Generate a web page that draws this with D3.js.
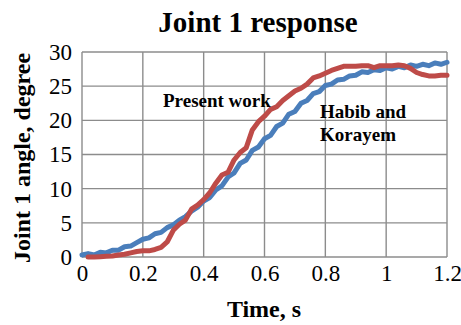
<!DOCTYPE html>
<html>
<head>
<meta charset="utf-8">
<script src="https://cdn.jsdelivr.net/npm/d3@7"></script>
<style>
  html, body { margin: 0; padding: 0; background: #fff; }
  svg text { font-family: "Liberation Serif", "Times New Roman", serif; fill: #000; }
</style>
</head>
<body>
<svg id="chart" width="461" height="325"></svg>
<script>
// Time samples (s) for both series
const timeHK = [0,0.02,0.04,0.06,0.08,0.10,0.12,0.14,0.16,0.18,0.20,0.22,0.24,0.26,0.28,0.30,0.32,0.34,0.36,0.38,0.40,0.42,0.44,0.46,0.48,0.50,0.52,0.54,0.56,0.58,0.60,0.62,0.64,0.66,0.68,0.70,0.72,0.74,0.76,0.78,0.80,0.82,0.84,0.86,0.88,0.90,0.92,0.94,0.96,0.98,1.00,1.02,1.04,1.06,1.08,1.10,1.12,1.14,1.16,1.18,1.20];
// Habib and Korayem joint 1 angle (degree)
const habibKorayem = [0.3,0.5,0.3,0.7,0.6,1.0,1.0,1.5,1.6,2.1,2.6,2.8,3.4,3.6,4.3,4.7,5.4,5.9,6.7,7.3,8.2,8.7,9.8,10.4,11.7,12.3,13.7,14.2,15.6,16.1,17.3,17.8,19.1,19.6,20.9,21.3,22.5,22.9,23.9,24.2,25.1,25.3,25.9,26.0,26.5,26.6,27.1,27.0,27.4,27.3,27.7,27.5,27.9,27.7,28.1,27.9,28.2,28.0,28.4,28.2,28.5];

const timePW = [0.02,0.04,0.06,0.08,0.10,0.12,0.14,0.16,0.18,0.20,0.22,0.24,0.26,0.28,0.30,0.32,0.34,0.36,0.38,0.40,0.42,0.44,0.46,0.48,0.50,0.52,0.54,0.56,0.58,0.60,0.62,0.64,0.66,0.68,0.70,0.72,0.74,0.76,0.78,0.80,0.82,0.84,0.86,0.88,0.90,0.92,0.94,0.96,0.98,1.00,1.02,1.04,1.06,1.08,1.10,1.12,1.14,1.16,1.18,1.20];
// Present work joint 1 angle (degree)
const presentWork = [0.0,0.0,0.05,0.1,0.15,0.3,0.4,0.6,0.8,0.9,0.9,1.1,1.4,2.2,3.9,4.8,5.4,7.0,7.6,8.4,9.4,10.8,12.0,12.4,14.2,15.3,16.0,18.6,19.8,20.6,21.6,22.0,22.9,23.6,24.3,24.7,25.3,26.2,26.5,26.9,27.3,27.6,27.9,27.9,27.9,28.0,28.0,27.7,28.0,28.0,28.0,28.1,28.0,27.6,27.0,26.7,26.5,26.5,26.6,26.6];

const xTicks = [0, 0.2, 0.4, 0.6, 0.8, 1, 1.2];
const yTicks = [0, 5, 10, 15, 20, 25, 30];

const svg = d3.select("#chart");
const plot = { left: 82, right: 447, top: 52, bottom: 257 };

const x = d3.scaleLinear().domain([0, 1.2]).range([plot.left, plot.right]);
const y = d3.scaleLinear().domain([0, 30]).range([plot.bottom, plot.top]);

// Grid lines
const grid = svg.append("g").attr("stroke", "#8c8c8c").attr("stroke-width", 1.4);
grid.selectAll(".gx").data(xTicks).join("line")
  .attr("x1", d => x(d)).attr("x2", d => x(d))
  .attr("y1", plot.top).attr("y2", plot.bottom);
grid.selectAll(".gy").data(yTicks).join("line")
  .attr("x1", plot.left).attr("x2", plot.right)
  .attr("y1", d => y(d)).attr("y2", d => y(d));

// Axes (labels only; lines come from the grid)
const xAxis = svg.append("g")
  .attr("transform", `translate(0,${plot.bottom})`)
  .call(d3.axisBottom(x).tickValues(xTicks).tickSize(0).tickPadding(8).tickFormat(d3.format("")));
xAxis.select(".domain").remove();
xAxis.selectAll("text").attr("font-size", 23).attr("font-family", "Liberation Serif").attr("fill", "#000");

const yAxis = svg.append("g")
  .attr("transform", `translate(${plot.left},0)`)
  .call(d3.axisLeft(y).tickValues(yTicks).tickSize(0).tickPadding(10));
yAxis.select(".domain").remove();
yAxis.selectAll("text").attr("font-size", 23).attr("font-family", "Liberation Serif").attr("fill", "#000");

// Series lines
const line = d3.line().x(d => x(d[0])).y(d => y(d[1])).curve(d3.curveLinear);

svg.append("path")
  .datum(d3.zip(timeHK, habibKorayem))
  .attr("fill", "none").attr("stroke", "#4a7ebb").attr("stroke-width", 5)
  .attr("stroke-linejoin", "round").attr("stroke-linecap", "round")
  .attr("d", line);

svg.append("path")
  .datum(d3.zip(timePW, presentWork))
  .attr("fill", "none").attr("stroke", "#be4b48").attr("stroke-width", 5)
  .attr("stroke-linejoin", "round").attr("stroke-linecap", "round")
  .attr("d", line);

// Titles
svg.append("text").attr("x", 258).attr("y", 32).attr("text-anchor", "middle")
  .attr("font-size", 29).attr("font-weight", "bold").text("Joint 1 response");

svg.append("text").attr("x", 264).attr("y", 317).attr("text-anchor", "middle")
  .attr("font-size", 24).attr("font-weight", "bold").text("Time, s");

svg.append("text").attr("transform", "translate(30,158) rotate(-90)")
  .attr("text-anchor", "middle").attr("font-size", 24).attr("font-weight", "bold")
  .text("Joint 1 angle, degree");

// Series annotations
svg.append("text").attr("x", 163).attr("y", 107)
  .attr("font-size", 19).attr("font-weight", "bold").text("Present work");
svg.append("text").attr("x", 320).attr("y", 118)
  .attr("font-size", 19).attr("font-weight", "bold").text("Habib and");
svg.append("text").attr("x", 320).attr("y", 141)
  .attr("font-size", 19).attr("font-weight", "bold").text("Korayem");
</script>
</body>
</html>
